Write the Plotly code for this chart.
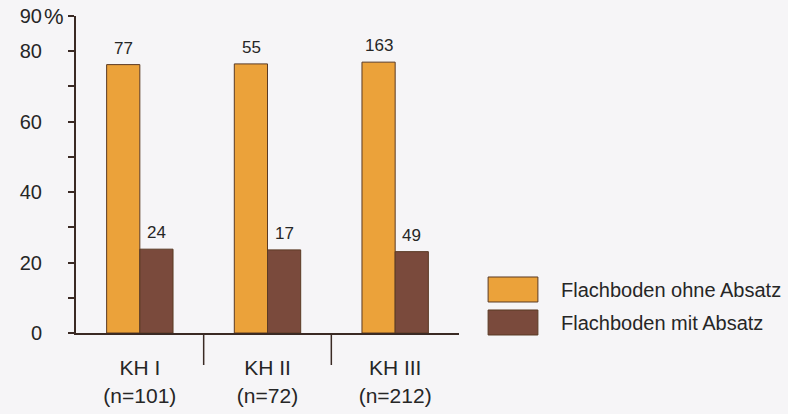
import plotly.graph_objects as go

categories = ["KH I<br>(n=101)", "KH II<br>(n=72)", "KH III<br>(n=212)"]
series_names = ["Flachboden ohne Absatz", "Flachboden mit Absatz"]
pct_ohne = [76.2, 76.4, 76.9]
pct_mit = [23.8, 23.6, 23.1]
count_ohne = ["77", "55", "163"]
count_mit = ["24", "17", "49"]
y_tickvals = [0, 10, 20, 30, 40, 50, 60, 70, 80, 90]
y_ticktext = ["0", "", "20", "", "40", "", "60", "", "80", "90"]

ORANGE = "#eba23a"
BROWN = "#7a4a3c"
EDGE = "#5a3a24"
AXIS = "#3a2a24"
TEXT = "#262626"
BG = "#f6f5f7"
FONT = "Liberation Sans, Arial, sans-serif"

fig = go.Figure()
fig.add_trace(go.Bar(x=categories, y=pct_ohne, name=series_names[0],
                     marker=dict(color=ORANGE, line=dict(color=EDGE, width=1)),
                     showlegend=False))
fig.add_trace(go.Bar(x=categories, y=pct_mit, name=series_names[1],
                     marker=dict(color=BROWN, line=dict(color=EDGE, width=1)),
                     showlegend=False))

shapes = []
# category separators below the axis
for xv in [0.5, 1.5]:
    shapes.append(dict(type="line", xref="x", yref="paper", x0=xv, x1=xv,
                       y0=0, y1=-0.101, line=dict(color=AXIS, width=1.5)))
# legend swatches
swatches = [(0.1767, 0.0978, ORANGE), (0.0726, -0.0063, BROWN)]
for (y1, y0, col) in swatches:
    shapes.append(dict(type="rect", xref="paper", yref="paper",
                       x0=1.076, x1=1.206, y0=y0, y1=y1,
                       fillcolor=col, line=dict(color=EDGE, width=1)))

annotations = [
    dict(text="%", xref="paper", yref="y", x=-0.026, y=90, xanchor="right",
         yanchor="middle", showarrow=False, font=dict(size=22, color=TEXT)),
]
# value labels above bars
for vals, labels, shift in [(pct_ohne, count_ohne, -16.5), (pct_mit, count_mit, 16.5)]:
    for c, v, t in zip(categories, vals, labels):
        annotations.append(dict(text=t, x=c, y=v, xref="x", yref="y",
                                xanchor="center", yanchor="bottom", xshift=shift,
                                yshift=5, showarrow=False,
                                font=dict(size=17, color=TEXT)))
for name, yv in zip(series_names, [0.1356, 0.0315]):
    annotations.append(dict(text=name, xref="paper", yref="paper", x=1.262, y=yv,
                            xanchor="left", yanchor="middle", showarrow=False,
                            font=dict(size=20, color=TEXT)))

fig.update_layout(
    template="none",
    width=788, height=414,
    margin=dict(l=76, r=329, t=16, b=81, pad=0),
    paper_bgcolor=BG, plot_bgcolor=BG,
    font=dict(family=FONT, color=TEXT, size=20),
    barmode="group", bargap=0.48, bargroupgap=0,
    shapes=shapes, annotations=annotations,
    xaxis=dict(range=[-0.5, 2.5], showline=True, linecolor=AXIS, linewidth=2,
               ticks="", showgrid=False, zeroline=False, automargin=False,
               tickfont=dict(size=21, color=TEXT), ticklabelstandoff=15),
    yaxis=dict(range=[0, 90], tickvals=y_tickvals, ticktext=y_ticktext,
               showline=True, linecolor=AXIS, linewidth=2, ticks="outside",
               ticklen=6, tickwidth=1.5, tickcolor=AXIS, showgrid=False,
               zeroline=False, automargin=False,
               tickfont=dict(size=20, color=TEXT), ticklabelstandoff=22),
)

fig.write_html("out.html", config={"displayModeBar": False},
               post_script="document.body.style.margin='0';document.body.style.background='#f6f5f7';")
